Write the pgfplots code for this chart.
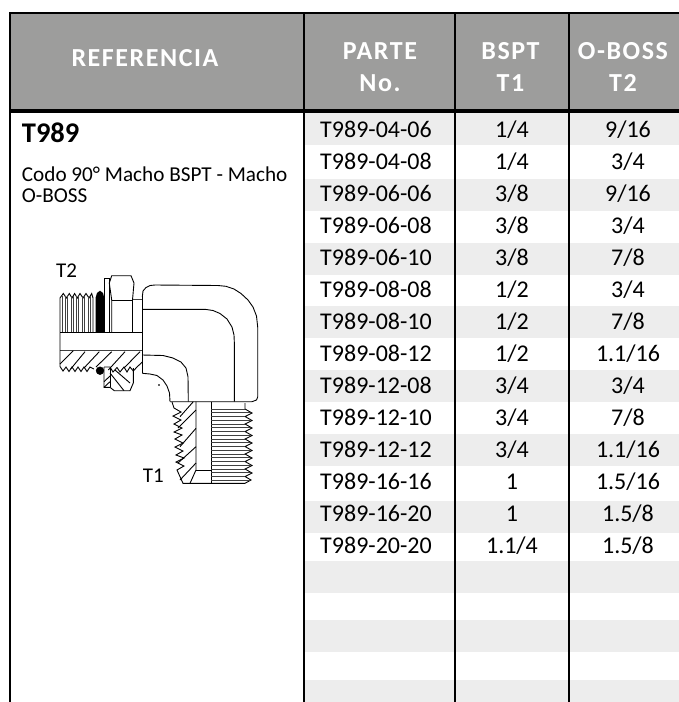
\documentclass[border=0pt]{standalone}
\usepackage{pgfplots}
\pgfplotsset{compat=1.18}
\usepackage{fontspec}
\setmainfont{Carlito}
\definecolor{hdr}{HTML}{9D9D9C}
\definecolor{band}{HTML}{EDEDED}
\newcommand{\rowtext}[4]{%
  \node[anchor=base,inner sep=0pt] at (axis cs:376,#1) {\fontsize{24}{28}\selectfont #2};
  \node[anchor=base,inner sep=0pt] at (axis cs:512,#1) {\fontsize{24}{28}\selectfont #3};
  \node[anchor=base,inner sep=0pt] at (axis cs:628,#1) {\fontsize{24}{28}\selectfont #4};
}
\newcommand{\hdrfont}{\fontsize{26}{30}\selectfont\bfseries\addfontfeatures{LetterSpace=6}\color{white}}
\begin{document}
\begin{tikzpicture}
\begin{axis}[
  scale only axis, width=679pt, height=702pt,
  xmin=0, xmax=679, ymin=0, ymax=702, y dir=reverse,
  hide axis, clip=true, unbounded coords=jump,
  fit/.style={black, line width=0.9pt, no markers, forget plot},
  thin fit/.style={black!75, line width=0.7pt, no markers, forget plot},
  box/.style={draw=none, no markers, forget plot},
]
% page background keeps the full extent
\addplot[box, fill=white] coordinates {(0,0)(679,0)(679,702)(0,702)(0,0)};
% header band
\addplot[box, fill=hdr] coordinates {(10,13)(679,13)(679,111)(10,111)(10,13)};
% row bands, column 304 to the right edge
\addplot[box, fill=band] coordinates {(304,113)(679,113)(679,144.7)(304,144.7)};
\addplot[box, fill=band] coordinates {(304,179)(679,179)(679,210.7)(304,210.7)};
\addplot[box, fill=band] coordinates {(304,243)(679,243)(679,274.7)(304,274.7)};
\addplot[box, fill=band] coordinates {(304,306)(679,306)(679,337.7)(304,337.7)};
\addplot[box, fill=band] coordinates {(304,370)(679,370)(679,401.7)(304,401.7)};
\addplot[box, fill=band] coordinates {(304,434)(679,434)(679,466)(304,466)};
\addplot[box, fill=band] coordinates {(304,500.7)(679,500.7)(679,533)(304,533)};
\addplot[box, fill=band] coordinates {(304,561)(679,561)(679,593)(304,593)};
\addplot[box, fill=band] coordinates {(304,620)(679,620)(679,652)(304,652)};
\addplot[box, fill=band] coordinates {(304,680)(679,680)(679,702)(304,702)};
% rules
\addplot[black, line width=2.4pt, forget plot, no markers] coordinates {(9,13)(679,13)};
\addplot[black, line width=3.2pt, forget plot, no markers] coordinates {(9,111)(679,111)};
\addplot[black, line width=2.4pt, forget plot, no markers] coordinates {(10,12)(10,702)};
\addplot[black, line width=2.2pt, forget plot, no markers] coordinates {(304,12)(304,702)};
\addplot[black, line width=2.2pt, forget plot, no markers] coordinates {(455,12)(455,702)};
\addplot[black, line width=2.2pt, forget plot, no markers] coordinates {(569,12)(569,702)};

% fitting: elbow body
\addplot[fit] coordinates {(142.3,297)(143,291)(146,287.5)(150,285.5)(155,285)(218,285.5)(226,286.3)(234,289)(241,293.5)(248,300)(253,307)(256.5,316)(257.7,327)(257.7,397)(256.5,400)(252,401.7)(170,401.7)};
\addplot[fit] coordinates {(142.3,309.3)(205,309.3)(213,310.5)(220,313.5)(227,319)(232,327)(234,335)(234.3,342)(234.3,401.7)};
\addplot[fit] coordinates {(142.3,355)(163,355.5)(173,358)(181,362)(186,368)(188,376.7)(188.3,401.7)};
\addplot[fit] coordinates {(142.3,373.3)(150,374)(157,375.5)(163,380)(167,386)(169.5,393)(170,401.7)};
\addplot[fit] coordinates {(142.3,297)(142.3,373.3)};
\addplot[black, only marks, mark=*, mark size=0.6pt, forget plot] coordinates {(159,385)};
% upper thread
\addplot[fit] coordinates {(60,332.7)(60,298)(63.3,293.5)(66.3,298)(69.3,293.5)(72,298)(74.6,293.5)(77.3,298)(80,293.5)(83,298)(86,293.5)(89,298)(91.7,293.5)(93,298)(93,332.7)};
\addplot[thin fit] coordinates {(62,296)(62,332.7)(nan,nan)(65,296)(65,332.7)(nan,nan)(67.5,296)(67.5,332.7)(nan,nan)(71,296)(71,332.7)(nan,nan)(73,296)(73,332.7)(nan,nan)(76.5,296)(76.5,332.7)(nan,nan)(78.5,296)(78.5,332.7)(nan,nan)(82,296)(82,332.7)(nan,nan)(84.5,296)(84.5,332.7)(nan,nan)(88,296)(88,332.7)(nan,nan)(90,296)(90,332.7)};
% o-ring, washer, hex
\addplot[box, fill=black] coordinates {(95.5,332.7)(95.5,298)(97,293)(100,290.7)(103,293)(104.3,298)(104.3,332.7)};
\addplot[fit] coordinates {(104.3,332.7)(104.3,278.3)(109.3,278.3)(109.3,332.7)};
\addplot[fit] coordinates {(109.3,283)(111.7,275.7)(131,275.7)(134,283)(132.5,300)(132.5,332.7)};
\addplot[fit] coordinates {(109.3,283)(111.7,300)(111.7,332.7)};
\addplot[fit] coordinates {(111.7,300)(132.5,300)};
\addplot[thin fit] coordinates {(133,299.3)(142.3,299.3)};
% collar
\addplot[fit] coordinates {(60,332.7)(142.3,332.7)};
\addplot[thin fit, line width=1.1pt] coordinates {(60,350.5)(142.3,350.5)};
\addplot[fit] coordinates {(60,332.7)(60,366.5)(63,371)(66,367)(69,371.5)(72,367)(75,371.5)(78,367)(81,371.5)(84,367)(87,371.5)(90,367)(94,369)};
\addplot[fit] coordinates {(73.3,350.7)(60,364)(nan,nan)(85,351.7)(70.7,369)(nan,nan)(99.3,351.7)(84,368)(nan,nan)(111.7,351.7)(96,367)(nan,nan)(125,351.7)(108.3,370)(nan,nan)(140,351.7)(124,368)};
% ring dot
\addplot[black, only marks, mark=*, mark size=3.9pt, forget plot] coordinates {(100,370.7)};
% lower nut
\addplot[fit] coordinates {(104,367)(104,387.3)(110,387.3)(114.3,390.7)(130,390.7)(133.3,383)(133.3,368)};
\addplot[fit] coordinates {(104,367)(110,367)(113,372)(117,367.5)(120,372)(124,367)(127,372)(130,367)(133.3,371)(137,367)(142.3,362)};
\addplot[fit] coordinates {(110,367)(110,387.3)};
\addplot[fit] coordinates {(104,381.7)(110,376)(nan,nan)(104,387.3)(110,381.7)(nan,nan)(110,373)(124,390.7)(nan,nan)(115,370)(130,383)};
% lower thread
\addplot[fit] coordinates {(172,402)(174,408)(181,412)(173,416)(181,420)(174,424)(182,428)(174,432)(182,435)(175,439)(183,443)(175,447)(183,451)(176,455)(184,458)(176,462)(184,466)(177,470)(183,483.3)(245,483.3)};
\addplot[fit] coordinates {(193.3,401.7)(180,416.7)(nan,nan)(196,410)(178,428)(nan,nan)(196,428.3)(180,446.7)(nan,nan)(196,446.7)(178,463)(nan,nan)(196,463)(180,480)};
\addplot[fit] coordinates {(196,401.7)(196,470)(190,483.3)};
\addplot[fit] coordinates {(196,470.3)(211,470.3)};
\addplot[fit] coordinates {(211,401.7)(211,483.3)};
\addplot[fit] coordinates {(245,403)(245,409)(252,413)(245,416.5)(252,420.5)(245,424)(252,428)(245,431.5)(252,435.5)(245,439)(252,443)(245,446.5)(252,450.5)(245,454)(252,458)(245,461.5)(252,465.5)(245,469)(252,473)(245,476.5)(251,480)(245,483.3)};
\addplot[thin fit] coordinates {(211,409)(245,409)(nan,nan)(211,412.5)(250,412.5)(nan,nan)(211,416.5)(245,416.5)(nan,nan)(211,420)(250,420)(nan,nan)(211,424)(245,424)(nan,nan)(211,427.5)(250,427.5)(nan,nan)(211,431.5)(245,431.5)(nan,nan)(211,435)(250,435)(nan,nan)(211,439)(245,439)(nan,nan)(211,442.5)(250,442.5)(nan,nan)(211,446.5)(245,446.5)(nan,nan)(211,450)(250,450)(nan,nan)(211,454)(245,454)(nan,nan)(211,457.5)(250,457.5)(nan,nan)(211,461.5)(245,461.5)(nan,nan)(211,465)(250,465)(nan,nan)(211,469)(245,469)(nan,nan)(211,472.5)(250,472.5)(nan,nan)(211,476.5)(245,476.5)(nan,nan)(211,480)(250,480)};

% text
\node[anchor=base,inner sep=0pt] at (axis cs:145,66.7) {\hdrfont REFERENCIA};
\node[anchor=base,inner sep=0pt] at (axis cs:380,59.3) {\hdrfont PARTE};
\node[anchor=base,inner sep=0pt] at (axis cs:380,91) {\hdrfont No.};
\node[anchor=base,inner sep=0pt] at (axis cs:510.5,59.3) {\hdrfont BSPT};
\node[anchor=base,inner sep=0pt] at (axis cs:510.5,91) {\hdrfont T1};
\node[anchor=base,inner sep=0pt] at (axis cs:623,59.3) {\hdrfont O-BOSS};
\node[anchor=base,inner sep=0pt] at (axis cs:623,91) {\hdrfont T2};
\node[anchor=base west,inner sep=0pt] at (axis cs:21.7,142.7) {\fontsize{28.5}{31}\selectfont\bfseries T989};
\node[anchor=base west,inner sep=0pt] at (axis cs:21.7,181) {\fontsize{21.2}{25}\selectfont Codo 90° Macho BSPT - Macho};
\node[anchor=base west,inner sep=0pt] at (axis cs:21.7,202.7) {\fontsize{21.2}{25}\selectfont O-BOSS};
\node[anchor=base west,inner sep=0pt] at (axis cs:56,277.7) {\fontsize{21}{25}\selectfont T2};
\node[anchor=base west,inner sep=0pt] at (axis cs:142.7,482.7) {\fontsize{21}{25}\selectfont T1};
\rowtext{137.7}{T989-04-06}{1/4}{9/16}
\rowtext{169.7}{T989-04-08}{1/4}{3/4}
\rowtext{201.7}{T989-06-06}{3/8}{9/16}
\rowtext{233.7}{T989-06-08}{3/8}{3/4}
\rowtext{265.7}{T989-06-10}{3/8}{7/8}
\rowtext{297.7}{T989-08-08}{1/2}{3/4}
\rowtext{329.5}{T989-08-10}{1/2}{7/8}
\rowtext{361.7}{T989-08-12}{1/2}{1.1/16}
\rowtext{393.5}{T989-12-08}{3/4}{3/4}
\rowtext{425.7}{T989-12-10}{3/4}{7/8}
\rowtext{457.7}{T989-12-12}{3/4}{1.1/16}
\rowtext{489.7}{T989-16-16}{1}{1.5/16}
\rowtext{521.7}{T989-16-20}{1}{1.5/8}
\rowtext{553.5}{T989-20-20}{1.1/4}{1.5/8}
\end{axis}
\end{tikzpicture}
\end{document}
